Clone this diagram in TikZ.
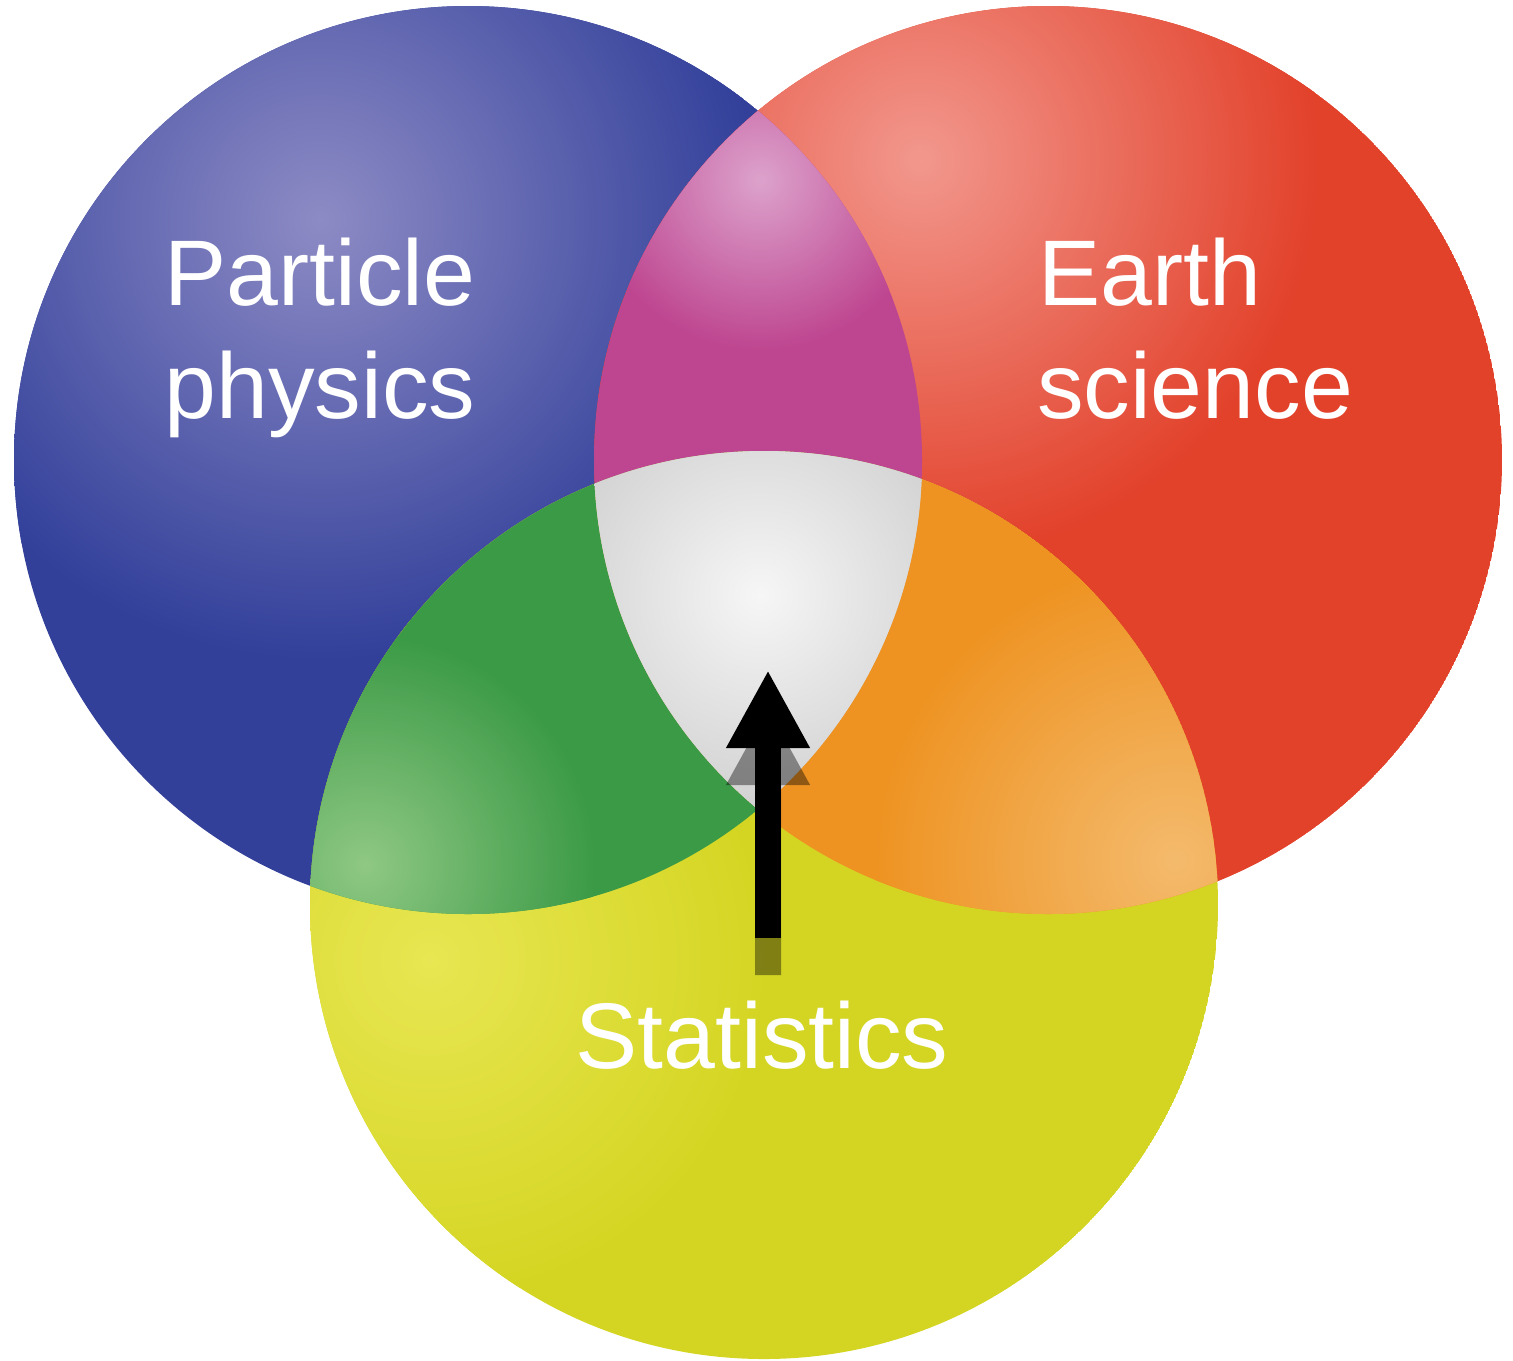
\documentclass[tikz,border=0pt]{standalone}
\usepackage{fontspec}
\setmainfont{Liberation Sans}
\usetikzlibrary{arrows.meta}
\definecolor{bluebase}{HTML}{32409A}
\definecolor{bluehi}{HTML}{8D8BC5}
\definecolor{redbase}{HTML}{E2412A}
\definecolor{redhi}{HTML}{F2978D}
\definecolor{yelbase}{HTML}{D4D522}
\definecolor{yelhi}{HTML}{E8E652}
\definecolor{magbase}{HTML}{BE4690}
\definecolor{maghi}{HTML}{DCA2CC}
\definecolor{grnbase}{HTML}{3B9A46}
\definecolor{grnhi}{HTML}{8FC883}
\definecolor{orgbase}{HTML}{EE9322}
\definecolor{orghi}{HTML}{F4BA6C}
\definecolor{cenbase}{HTML}{CDCDCD}
\definecolor{cenhi}{HTML}{F6F6F6}
\begin{document}
\begin{tikzpicture}[x=0.01cm,y=-0.01cm,
  lbl/.style={text=white,font=\fontsize{26.5}{31}\selectfont,inner sep=0pt,anchor=base},
  arrowline/.style={line width=0.26cm,-{Triangle[width=0.78cm,length=0.78cm]}}]
\useasboundingbox (0,0) rectangle (1513,1360);
\coordinate (cb) at (468,460);
\coordinate (cr) at (1048,460);
\coordinate (cy) at (764,905);
% blue circle
\begin{scope}
  \clip (cb) circle [radius=454];
  \fill[bluebase] (cb) circle [radius=454];
  \shade[inner color=bluehi, outer color=bluebase] (320,220) circle [radius=440];
\end{scope}
% red circle
\begin{scope}
  \clip (cr) circle [radius=454];
  \fill[redbase] (cr) circle [radius=454];
  \shade[inner color=redhi, outer color=redbase] (920,160) circle [radius=400];
\end{scope}
% yellow circle
\begin{scope}
  \clip (cy) circle [radius=454];
  \fill[yelbase] (cy) circle [radius=454];
  \shade[inner color=yelhi, outer color=yelbase] (430,960) circle [radius=340];
\end{scope}
% magenta: blue and red
\begin{scope}
  \clip (cb) circle [radius=454];
  \clip (cr) circle [radius=454];
  \fill[magbase] (0,0) rectangle (1513,1360);
  \shade[inner color=maghi, outer color=magbase] (760,180) circle [radius=170];
\end{scope}
% green: blue and yellow
\begin{scope}
  \clip (cb) circle [radius=454];
  \clip (cy) circle [radius=454];
  \fill[grnbase] (0,0) rectangle (1513,1360);
  \shade[inner color=grnhi, outer color=grnbase] (365,865) circle [radius=230];
\end{scope}
% orange: red and yellow
\begin{scope}
  \clip (cr) circle [radius=454];
  \clip (cy) circle [radius=454];
  \fill[orgbase] (0,0) rectangle (1513,1360);
  \shade[inner color=orghi, outer color=orgbase] (1175,860) circle [radius=300];
\end{scope}
% centre: all three
\begin{scope}
  \clip (cb) circle [radius=454];
  \clip (cr) circle [radius=454];
  \clip (cy) circle [radius=454];
  \fill[cenbase] (0,0) rectangle (1513,1360);
  \shade[inner color=cenhi, outer color=cenbase] (760,595) circle [radius=240];
\end{scope}
% labels
\node[lbl] (pp1) at (320,305) {Particle};
\node[lbl] (pp2) at (320,418) {physics};
\node[lbl] (es1) at (1150,305) {Earth};
\node[lbl] (es2) at (1195,418) {science};
\node[lbl] (st) at (762,1068) {Statistics};
% arrow with soft shadow
\coordinate (abot) at (768,938);
\coordinate (atip) at (768,670);
\coordinate (sbot) at (768,975);
\coordinate (stip) at (768,707);
\begin{scope}[transparency group, opacity=0.4]
  \draw[arrowline, black] (sbot) -- (stip);
\end{scope}
\draw[arrowline, black] (abot) -- (atip);
\end{tikzpicture}
\end{document}
